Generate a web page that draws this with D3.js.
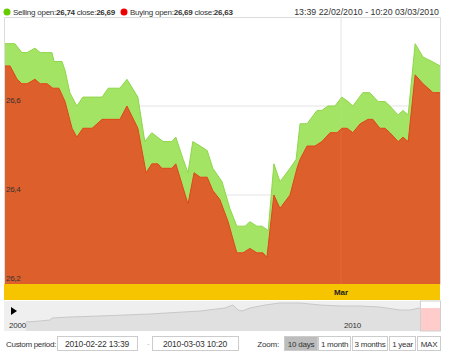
<!DOCTYPE html>
<html>
<head>
<meta charset="utf-8">
<title>Selling / Buying</title>
<script src="https://d3js.org/d3.v7.min.js"></script>
<style>
  body { margin: 0; background: #fff; }
  svg { font-family: "Liberation Sans", Arial, sans-serif; display: block; }
</style>
</head>
<body>
<svg id="chart" width="450" height="358"></svg>
<script>
// position along the 10 day window (0 = 22/02 13:39, 100 = 03/03 10:20)
var sellT = [0, 2.5, 4.1, 5.3, 7.1, 8.3, 9.9, 11.0, 11.5, 13.3, 14.0, 15.1, 16.7, 18.1, 22.5, 23.9, 26.6, 28.2, 30.7, 32.3,
  33.9, 36.5, 38.5, 39.4, 41.1, 42.2, 43.3, 45.0, 46.6, 47.9, 50.0, 51.8, 53.4, 55.3, 56.4, 58.0, 59.2, 60.6, 61.9, 63.3,
  65.6, 67.0, 67.9, 69.5, 71.8, 72.9, 74.3, 75.9, 77.5, 78.9, 80.0, 82.3, 83.9, 85.8, 87.4, 88.5, 90.4, 91.5, 92.7, 94.3,
  96.1, 98.2, 100];
var sellV = [26.74, 26.74, 26.72, 26.72, 26.73, 26.72, 26.72, 26.72, 26.70, 26.70, 26.68, 26.63, 26.60, 26.62, 26.62, 26.64, 26.64, 26.66, 26.62, 26.52,
  26.54, 26.52, 26.52, 26.53, 26.48, 26.45, 26.52, 26.51, 26.50, 26.46, 26.43, 26.37, 26.33, 26.33, 26.34, 26.33, 26.33, 26.32, 26.47, 26.43,
  26.46, 26.48, 26.56, 26.56, 26.59, 26.59, 26.60, 26.60, 26.62, 26.61, 26.60, 26.63, 26.63, 26.61, 26.61, 26.60, 26.58, 26.59, 26.58, 26.74,
  26.71, 26.70, 26.69];

var buyT = [0, 1.4, 3.0, 4.1, 5.3, 7.1, 8.3, 9.9, 11.2, 12.6, 14.0, 15.6, 16.7, 18.1, 20.2, 22.5, 26.6, 28.2, 30.7, 32.6,
  33.9, 35.3, 36.2, 38.5, 39.4, 42.2, 43.6, 45.0, 46.6, 47.9, 49.5, 51.4, 53.4, 54.8, 56.4, 58.0, 59.4, 60.3, 61.9, 63.3,
  65.6, 67.2, 67.9, 69.5, 71.3, 72.9, 74.8, 76.4, 77.5, 78.7, 80.0, 81.7, 83.5, 84.6, 86.2, 87.4, 88.5, 90.4, 91.5, 92.7,
  94.3, 96.1, 98.4, 100];
var buyV = [26.69, 26.69, 26.66, 26.65, 26.65, 26.66, 26.65, 26.65, 26.64, 26.64, 26.61, 26.55, 26.53, 26.55, 26.55, 26.57, 26.57, 26.60, 26.55, 26.45,
  26.47, 26.47, 26.46, 26.46, 26.47, 26.38, 26.45, 26.44, 26.44, 26.41, 26.39, 26.34, 26.27, 26.27, 26.28, 26.27, 26.27, 26.26, 26.40, 26.37,
  26.40, 26.46, 26.48, 26.51, 26.51, 26.52, 26.54, 26.54, 26.55, 26.55, 26.54, 26.56, 26.57, 26.57, 26.55, 26.55, 26.54, 26.52, 26.53, 26.52,
  26.67, 26.65, 26.63, 26.63];

var yTicks = [26.2, 26.4, 26.6];
var marT = 77.3; // 1 March

// navigator (long term) series
var navT = [5.0, 8.3, 10.6, 11.0, 15.1, 22.0, 33.5, 45.0, 50.7, 52.5, 53.7, 54.6, 56.4, 59.9, 63.3, 67.9, 72.5, 77.1, 81.7, 86.2,
  90.8, 93.1, 95.4, 100];
var navV = [9, 10, 11, 13, 14, 15, 17, 20, 23, 26, 21, 20, 23, 26, 28, 28, 26, 25, 25, 24,
  21, 21, 23, 23];
var navLabels = [{ t: 0.7, text: "2000" }, { t: 77.5, text: "2010" }];
var selStart = 95.4, selEnd = 100;

var zoomButtons = ["10 days", "1 month", "3 months", "1 year", "MAX"];

var svg = d3.select("#chart");
var x = d3.scaleLinear().domain([0, 100]).range([4, 440]);
var y = d3.scaleLinear().domain([26.2, 26.8]).range([284, 17]);
var loc = d3.formatLocale({ decimal: ",", thousands: ".", grouping: [3], currency: ["", ""] });
var comma = loc.format(".1f");
var comma2 = loc.format(".2f");

// legend
var leg = svg.append("g");
function legendItem(cx, color, name, open, close) {
  leg.append("circle").attr("cx", cx).attr("cy", 12).attr("r", 3.5).attr("fill", color);
  var t = leg.append("text").attr("x", cx + 6).attr("y", 15).attr("font-size", 8)
    .attr("letter-spacing", -0.25).attr("fill", "#333");
  t.append("tspan").text(name + " open:");
  t.append("tspan").attr("font-weight", "bold").text(comma2(open));
  t.append("tspan").text(" close:");
  t.append("tspan").attr("font-weight", "bold").text(comma2(close));
}
legendItem(7, "#66cc00", "Selling", sellV[0], sellV[sellV.length - 1]);
legendItem(124, "#ee0000", "Buying", buyV[0], buyV[buyV.length - 1]);
leg.append("text").attr("x", 439).attr("y", 15).attr("text-anchor", "end")
  .attr("font-size", 8.8).attr("fill", "#333").text("13:39 22/02/2010 - 10:20 03/03/2010");

// grid
svg.append("g").selectAll("line").data(yTicks).join("line")
  .attr("x1", 4).attr("x2", 441).attr("y1", d => y(d)).attr("y2", d => y(d))
  .attr("stroke", "#e4e4e4");
svg.append("line").attr("x1", x(marT)).attr("x2", x(marT)).attr("y1", 17).attr("y2", 284).attr("stroke", "#e4e4e4");

// areas
var sell = sellT.map((t, i) => [t, sellV[i]]);
var buy = buyT.map((t, i) => [t, buyV[i]]);
var area = d3.area().x(d => x(d[0])).y0(y(26.2)).y1(d => y(d[1]));
var line = d3.line().x(d => x(d[0])).y(d => y(d[1]));
svg.append("path").datum(sell).attr("d", area).attr("fill", "#a3e465");
svg.append("path").datum(sell).attr("d", line).attr("fill", "none").attr("stroke", "#8fd64a").attr("stroke-width", 1);
svg.append("path").datum(buy).attr("d", area).attr("fill", "#dd5f2b");
svg.append("path").datum(buy).attr("d", line).attr("fill", "none").attr("stroke", "#e2451c").attr("stroke-width", 1);

// faint grid over areas
svg.append("line").attr("x1", x(marT)).attr("x2", x(marT)).attr("y1", 17).attr("y2", 284)
  .attr("stroke", "#fff").attr("stroke-opacity", 0.07);

// plot border
svg.append("path").attr("d", "M4.5,284V17.5H440.5V284").attr("fill", "none").attr("stroke", "#dcdcdc");

// y labels
svg.append("g").selectAll("text").data(yTicks).join("text")
  .attr("x", 6).attr("y", d => y(d) - 3).attr("font-size", 8).attr("letter-spacing", -0.3).attr("fill", "#333")
  .text(d => comma(d));

// x axis band
svg.append("rect").attr("x", 4).attr("y", 284).attr("width", 436).attr("height", 16).attr("fill", "#f6c500");
svg.append("text").attr("x", x(marT)).attr("y", 295).attr("text-anchor", "middle")
  .attr("font-size", 8).attr("font-weight", "bold").attr("fill", "#222").text("Mar");

// navigator
var nx = d3.scaleLinear().domain([0, 100]).range([4, 440]);
var ny = d3.scaleLinear().domain([0, 30]).range([331, 301]);
var nav = svg.append("g");
nav.append("rect").attr("x", 4).attr("y", 301).attr("width", 436).attr("height", 30).attr("fill", "#efefef");
var navData = navT.map((t, i) => [t, navV[i]]);
var navArea = d3.area().x(d => nx(d[0])).y0(331).y1(d => ny(d[1]));
var navLine = d3.line().x(d => nx(d[0])).y(d => ny(d[1]));
nav.append("path").datum(navData).attr("d", navArea).attr("fill", "#e0e0e0");
nav.append("path").datum(navData).attr("d", navLine).attr("fill", "none").attr("stroke", "#c8c8c8");
nav.append("clipPath").attr("id", "sel").append("rect")
  .attr("x", nx(selStart)).attr("y", 301).attr("width", nx(selEnd) - nx(selStart)).attr("height", 30);
nav.append("rect").attr("x", nx(selStart)).attr("y", 301).attr("width", nx(selEnd) - nx(selStart)).attr("height", 30).attr("fill", "#fff");
nav.append("path").datum(navData).attr("d", navArea).attr("fill", "#ffcccc").attr("clip-path", "url(#sel)");
nav.append("rect").attr("x", nx(selStart) + 0.5).attr("y", 301).attr("width", nx(selEnd) - nx(selStart)).attr("height", 30)
  .attr("fill", "none").attr("stroke", "#d0d0d0");
nav.append("path").attr("d", "M11,307L17,311L11,315Z").attr("fill", "#000");
nav.selectAll("text.lbl").data(navLabels).join("text").attr("class", "lbl")
  .attr("x", d => nx(d.t) + 2).attr("y", 328).attr("font-size", 8).attr("letter-spacing", -0.2)
  .attr("fill", "#333").text(d => d.text);

// bottom controls
var ctl = svg.append("g").attr("font-size", 8).attr("fill", "#333");
ctl.append("text").attr("x", 6).attr("y", 347).attr("letter-spacing", -0.3).text("Custom period:");
function box(x0, w, label) {
  ctl.append("rect").attr("x", x0 + 0.5).attr("y", 336.5).attr("width", w).attr("height", 14)
    .attr("fill", "#fff").attr("stroke", "#ccc");
  ctl.append("text").attr("x", x0 + w / 2).attr("y", 347).attr("text-anchor", "middle")
    .attr("font-size", 8.5).attr("letter-spacing", -0.2).text(label);
}
box(57, 80, "2010-02-22 13:39");
ctl.append("text").attr("x", 147).attr("y", 346).attr("fill", "#bbb").text("-");
box(152, 86, "2010-03-03 10:20");
ctl.append("text").attr("x", 279).attr("y", 347).attr("text-anchor", "end").attr("letter-spacing", -0.2).text("Zoom:");
var bx = [284, 318, 352, 389, 417], bw = [33, 32, 35, 26, 23];
zoomButtons.forEach(function (b, i) {
  ctl.append("rect").attr("x", bx[i] + 0.5).attr("y", 336.5).attr("width", bw[i]).attr("height", 14)
    .attr("fill", i === 0 ? "#bdbdbd" : "#fff").attr("stroke", "#ccc");
  ctl.append("text").attr("x", bx[i] + bw[i] / 2 + 0.5).attr("y", 347).attr("text-anchor", "middle")
    .attr("letter-spacing", -0.25).text(b);
});
</script>
</body>
</html>
